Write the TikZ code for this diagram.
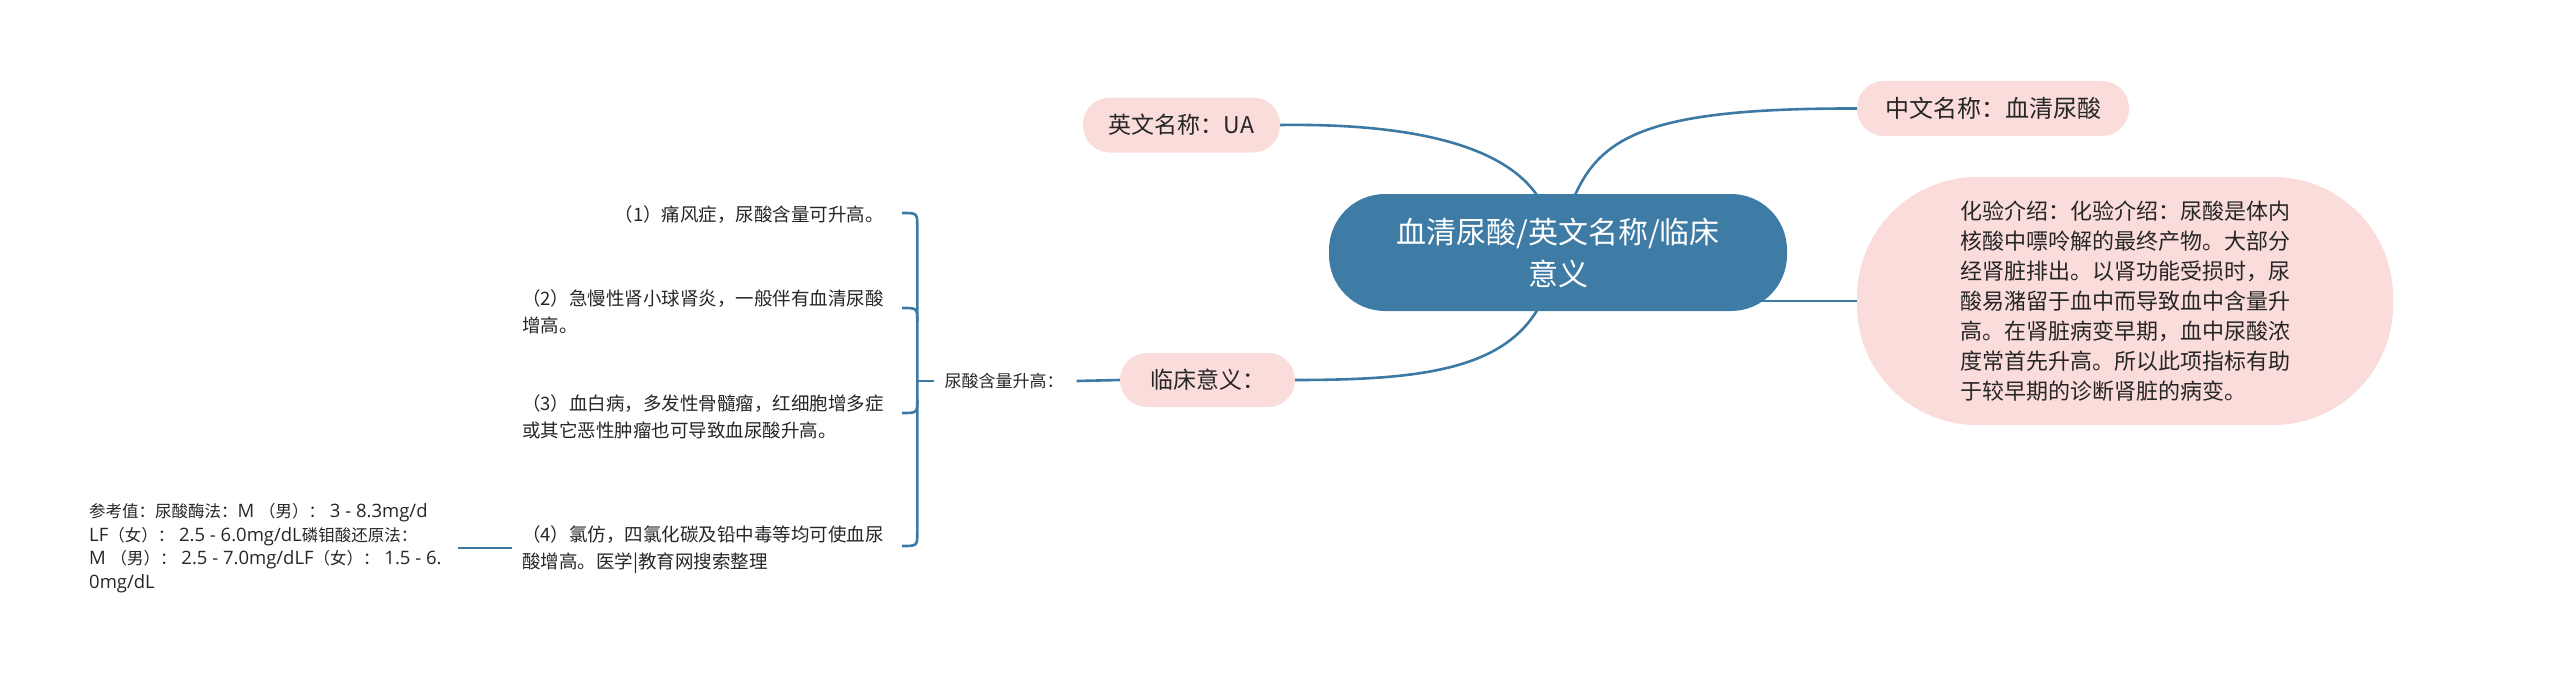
\documentclass[tikz,border=0pt]{standalone}
\usepackage{fontspec}
\setmainfont{Noto Sans CJK SC}
\newfontfamily\lat[Scale=1.12]{Open Sans}
\usetikzlibrary{backgrounds}
\definecolor{nodeblue}{HTML}{3E7CA6}
\definecolor{linkblue}{HTML}{3D7AA3}
\definecolor{pinkfill}{HTML}{FADCDB}
\definecolor{txt}{HTML}{262626}
\begin{document}
\begin{tikzpicture}[x=1pt,y=-1pt,
  link/.style={draw=linkblue,line width=2.6pt},
  pill/.style={fill=pinkfill,rounded corners=27pt,text=txt,inner sep=0pt,minimum height=55pt,font=\fontsize{23}{28}\selectfont},
  rootbox/.style={fill=nodeblue,text=white,rounded corners=56pt,align=center,inner sep=0pt,font=\fontsize{30}{42}\selectfont},
  bigbox/.style={fill=pinkfill,rounded corners=120pt,text=txt,align=left,inner sep=0pt,font=\fontsize{22}{30}\selectfont},
  item/.style={text=txt,align=left,inner sep=0pt,font=\fontsize{18.5}{27}\selectfont},
  small/.style={text=txt,align=left,inner sep=0pt,font=\fontsize{16.5}{23.5}\selectfont}]
\useasboundingbox (0,0) rectangle (2560,685);

\node[rootbox,minimum width=458pt,minimum height=117pt] (root) at (1558,252.5) {血清尿酸/英文名称/临床\\意义};
\node[pill,minimum width=197pt] (en) at (1181.5,125) {英文名称：UA};
\node[pill,minimum width=272pt,font=\fontsize{24}{28}\selectfont] (zh) at (1993,108.5) {中文名称：血清尿酸};
\node[pill,minimum width=175pt,minimum height=54pt] (lc) at (1207.5,380) {临床意义：};
\node[bigbox,minimum width=536pt,minimum height=248pt] (intro) at (2125,301) {化验介绍：化验介绍：尿酸是体内\\核酸中嘌呤解的最终产物。大部分\\经肾脏排出。以肾功能受损时，尿\\酸易潴留于血中而导致血中含量升\\高。在肾脏病变早期，血中尿酸浓\\度常首先升高。所以此项指标有助\\于较早期的诊断肾脏的病变。};

\node[small,font=\fontsize{17}{23}\selectfont] (lbl) at (1004,381) {尿酸含量升高：};

\node[item,anchor=east] (i1) at (884,215) {（1）痛风症，尿酸含量可升高。};
\node[item,anchor=east] (i2) at (884,312) {（2）急慢性肾小球肾炎，一般伴有血清尿酸\\增高。};
\node[item,anchor=east] (i3) at (884,417) {（3）血白病，多发性骨髓瘤，红细胞增多症\\或其它恶性肿瘤也可导致血尿酸升高。};
\node[item,anchor=east] (i4) at (884,550) {（4）氯仿，四氯化碳及铅中毒等均可使血尿\\酸增高。医学|教育网搜索整理};
\node[small,anchor=west] (ref) at (89,548) {参考值：尿酸酶法：{\lat M\ }（男）：{\lat\ 3 - 8.3mg/d}\\{\lat LF}（女）：{\lat\ 2.5 - 6.0mg/dL}磷钼酸还原法：\\{\lat M\ }（男）：{\lat\ 2.5 - 7.0mg/dLF}（女）：{\lat\ 1.5 - 6.}\\{\lat 0mg/dL}};

\coordinate (bx) at ([xshift=-27pt]lbl.west);
\coordinate (b1) at ([xshift=18pt,yshift=2pt]i1.east);
\coordinate (b2) at ([xshift=18pt,yshift=4pt]i2.east);
\coordinate (b3) at ([xshift=18pt,yshift=4pt]i3.east);
\coordinate (b4) at ([xshift=18pt,yshift=4pt]i4.east);
\coordinate (c1) at (bx |- b1);
\coordinate (c2) at (bx |- b2);
\coordinate (c3) at (bx |- b3);
\coordinate (c4) at (bx |- b4);

\begin{scope}[on background layer]
\draw[link] (en.east) .. controls (1425,123) and (1510,150) .. ([xshift=-18pt,yshift=-6pt]root.north);
\draw[link] ([xshift=15pt,yshift=-6pt]root.north) .. controls (1600,135) and (1650,108) .. (zh.west);
\draw[link] ([xshift=-18pt,yshift=6pt]root.south) .. controls (1505,370) and (1420,380) .. (lc.east);
\draw[link] (root.center |- intro.west) -- (intro.west);
\end{scope}
\draw[link] ([xshift=13pt]lbl.east) -- (lc.west);
\draw[link] ([xshift=-10pt]lbl.west) -- (bx);
\draw[link] (b1) .. controls (c1) .. ([yshift=-14pt]c1) -- ([yshift=14pt]c4) .. controls (c4) .. (b4);
\draw[link] (b2) .. controls (c2) .. ([yshift=-14pt]c2);
\draw[link] ([yshift=14pt]c3) .. controls (c3) .. (b3);
\draw[link] ([xshift=16pt]ref.east) -- ([xshift=-10pt]ref.east -| i4.west);
\end{tikzpicture}
\end{document}
